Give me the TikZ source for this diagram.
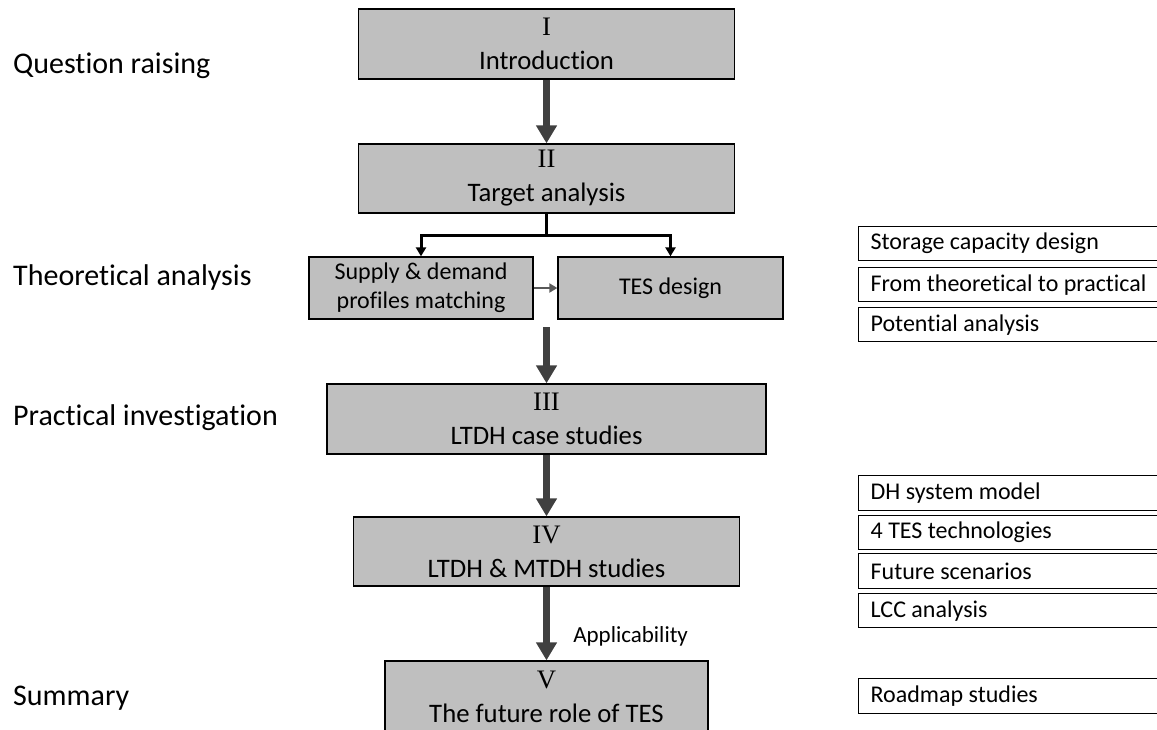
\documentclass[tikz,border=0pt]{standalone}
\usepackage{fontspec}
\setmainfont{Carlito}[Ligatures=NoCommon]
\newfontfamily\numfont{Liberation Serif}
\usepackage{xcolor}
\usepackage{tikz}
\usetikzlibrary{positioning}
\usetikzlibrary{arrows.meta}
\definecolor{boxgray}{HTML}{BFBFBF}
\definecolor{arrowgray}{HTML}{404040}
\definecolor{smallgray}{HTML}{595959}
\tikzset{edge/.style = {-{Triangle[width=20pt,length=18pt]}, line width=7pt, draw=arrowgray}}
\tikzset{split edge/.style = {-{Triangle[width=10pt,length=9pt]}, line width=3pt, draw=black}}
\tikzset{small edge/.style = {-{Triangle[width=9pt,length=8pt]}, line width=2.5pt, draw=smallgray}}

\begin{document}
\begin{tikzpicture}[x=1pt,y=-1pt,
    stage node/.style={rectangle,draw,fill=boxgray,line width=1.3pt,align=flush center,inner sep=0pt,font=\fontsize{26.7}{34}\selectfont},
    sub node/.style={rectangle,draw,fill=boxgray,line width=1.3pt,align=flush center,inner sep=0pt,minimum height=62pt,minimum width=224pt,font=\fontsize{24}{29}\selectfont},
    note node/.style={rectangle,draw,line width=1.3pt,anchor=north west,text width=290pt,inner xsep=12pt,inner ysep=0pt,align=flush left,font=\fontsize{24}{29}\selectfont},
    phase label/.style={anchor=base west,inner sep=0pt,font=\fontsize{30}{36}\selectfont}]
    \useasboundingbox (0,0) rectangle (1157,729);
    \clip (0,0) rectangle (1157,729);

    % phases on the left
    \node[phase label] (q) at (13,73) {Question raising};
    \node[phase label] (t) at (13,285) {Theoretical analysis};
    \node[phase label] (p) at (13,425) {Practical investigation};
    \node[phase label] (s) at (13,705) {Summary};

    % chapters
    \node[stage node, minimum width=376pt, minimum height=70pt] (intro) at (546.5,44) {{\numfont I}\\Introduction};
    \node[stage node, minimum width=376pt, minimum height=69pt] (target) at (546.5,178.5) {{\numfont II}\\Target analysis};
    \node[sub node] (supply) at (421,288) {Supply \& demand\\profiles matching};
    \node[sub node, minimum width=225pt] (tesdes) at (670.5,288) {TES design};
    \node[stage node, minimum width=439pt, minimum height=70pt] (ltdh) at (546.5,419) {{\numfont III}\\LTDH case studies};
    \node[stage node, minimum width=386pt, minimum height=69pt] (mtdh) at (546.5,551.5) {{\numfont IV}\\LTDH \& MTDH studies};
    \node[stage node, minimum width=323pt, minimum height=72pt] (future) at (546.5,697) {{\numfont V}\\The future role of TES};

    \coordinate (fork) at (546.5,235);
    \coordinate (theory) at (546.5,327);

    % notes on the right
    \node[note node, minimum height=34pt] (cap) at (858,226) {Storage capacity design};
    \node[note node, minimum height=34pt] (prac) at (858,267) {From theoretical to practical};
    \node[note node, minimum height=34pt] (pot) at (858,307) {Potential analysis};
    \node[note node, minimum height=35pt] (dh) at (858,475) {DH system model};
    \node[note node, minimum height=34pt] (tech) at (858,515) {4 TES technologies};
    \node[note node, minimum height=35pt] (scen) at (858,553) {Future scenarios};
    \node[note node, minimum height=34pt] (lcc) at (858,593) {LCC analysis};
    \node[note node, minimum height=35pt] (road) at (858,678) {Roadmap studies};

    \draw[line width=3pt] (target.south) -- (fork);
    \draw[split edge] (fork) -| (supply.north);
    \draw[split edge] (fork) -| (tesdes.north);

    \path
        (intro) edge[edge] (target)
        (supply) edge[small edge] (tesdes)
        (theory) edge[edge] (ltdh.north)
        (ltdh) edge[edge] (mtdh)
        (mtdh) edge[edge] node[pos=0.68, anchor=west, xshift=20pt, font=\fontsize{23}{28}\selectfont] {Applicability} (future)
        ;
\end{tikzpicture}
\end{document}
